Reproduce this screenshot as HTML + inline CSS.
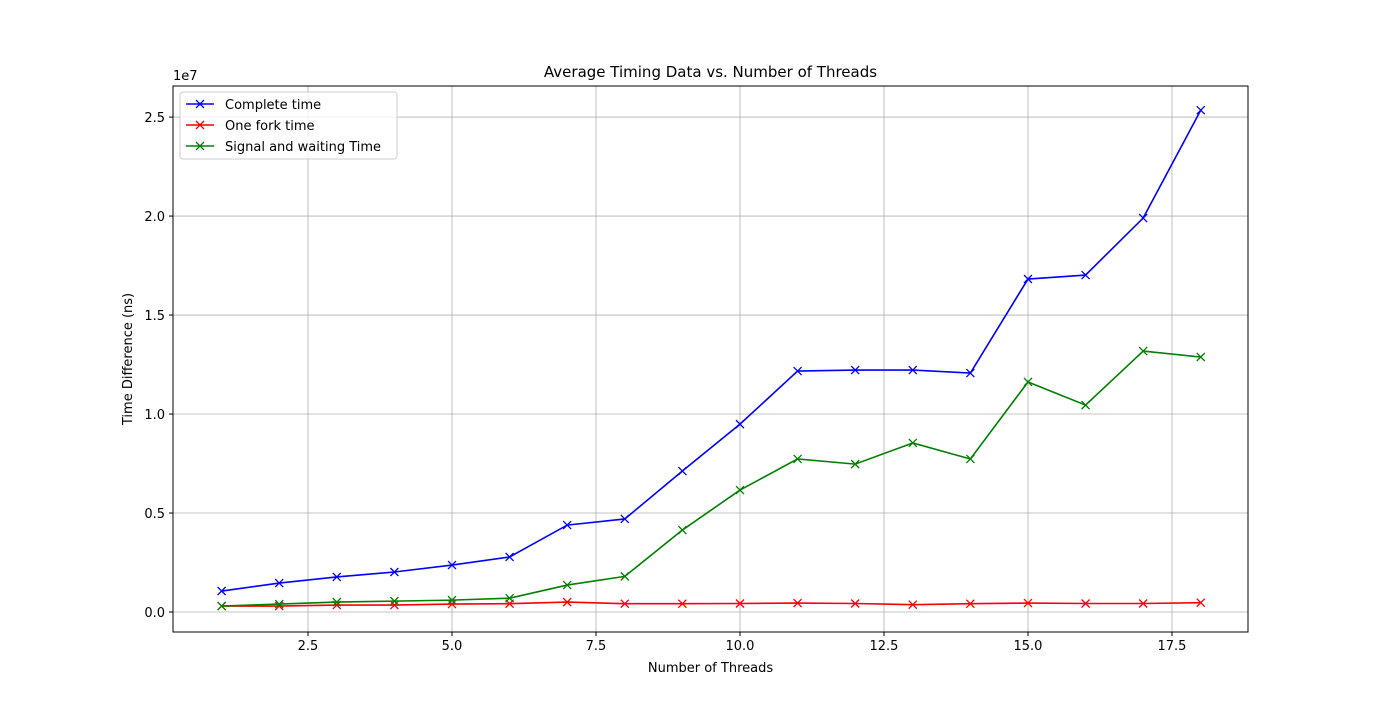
<!DOCTYPE html>
<html><head><meta charset="utf-8"><style>
body{margin:0;background:#fff}
svg text{font-family:"DejaVu Sans","Liberation Sans",sans-serif;fill:#000}
</style></head><body>
<svg id="chart" width="1387" height="710">
<rect width="1387" height="710" fill="#fff"/>
<g id="grid"></g>
<g id="axes"></g>
<g id="series"></g>
<rect x="173" y="86" width="1075" height="546" fill="none" stroke="#000" stroke-width="1"/>
<text x="710.5" y="77" text-anchor="middle" font-size="15">Average Timing Data vs. Number of Threads</text>
<text x="710.5" y="672" text-anchor="middle" font-size="13">Number of Threads</text>
<text transform="translate(132,359) rotate(-90)" text-anchor="middle" font-size="13">Time Difference (ns)</text>
<text x="173" y="80" font-size="13">1e7</text>
<g>
<rect x="180" y="92" width="217" height="67" fill="#fff" fill-opacity="0.8" stroke="#ccc" rx="3"/>
<g id="legend"></g>
</g>
</svg>
<script>
const threads=[1,2,3,4,5,6,7,8,9,10,11,12,13,14,15,16,17,18];
const completeTime=[0.106,0.146,0.177,0.202,0.237,0.278,0.439,0.470,0.712,0.949,1.217,1.222,1.222,1.207,1.682,1.702,1.990,2.535];
const forkTime=[0.030,0.030,0.035,0.035,0.040,0.042,0.050,0.042,0.042,0.043,0.045,0.043,0.037,0.042,0.045,0.043,0.043,0.047];
const signalTime=[0.030,0.040,0.050,0.055,0.060,0.070,0.136,0.180,0.414,0.616,0.773,0.747,0.854,0.773,1.162,1.045,1.318,1.288];
const xTicks=[2.5,5.0,7.5,10.0,12.5,15.0,17.5];
const yTicks=[0,0.5,1.0,1.5,2.0,2.5];
const xTickLabels=["2.5","5.0","7.5","10.0","12.5","15.0","17.5"];
const yTickLabels=["0.0","0.5","1.0","1.5","2.0","2.5"];
const seriesNames=["Complete time","One fork time","Signal and waiting Time"];
const seriesColors=["#0000ff","#ff0000","#008000"];
const L=173,R=1248,T=86,B=632;
const xMin=0.156,xMax=18.82,yMin=-0.101,yMax=2.657;
const sx=v=>L+(v-xMin)/(xMax-xMin)*(R-L);
const sy=v=>B-(v-yMin)/(yMax-yMin)*(B-T);
const NS="http://www.w3.org/2000/svg";
function mk(tag,attrs,parent){const e=document.createElementNS(NS,tag);for(const k in attrs)e.setAttribute(k,attrs[k]);parent.appendChild(e);return e;}
const grid=document.getElementById('grid'),axes=document.getElementById('axes'),ser=document.getElementById('series'),leg=document.getElementById('legend');
xTicks.forEach((t,i)=>{const x=sx(t);
 const g=mk('line',{x1:x,x2:x,y1:T,y2:B,stroke:'#b0b0b0','stroke-width':0.8},grid);
 
 
 mk('line',{x1:x,x2:x,y1:B,y2:B+4,stroke:'#000'},axes);
 const tx=mk('text',{x:x,y:B+18,'text-anchor':'middle','font-size':13},axes);tx.textContent=xTickLabels[i];
 
 });
yTicks.forEach((t,i)=>{const y=sy(t);
 const g=mk('line',{x1:L,x2:R,y1:y,y2:y,stroke:'#b0b0b0','stroke-width':0.8},grid);
 
 
 mk('line',{x1:L-4,x2:L,y1:y,y2:y,stroke:'#000'},axes);
 const tx=mk('text',{x:L-8,y:y+5,'text-anchor':'end','font-size':13},axes);tx.textContent=yTickLabels[i];
 
 });
function marker(x,y,c,p){mk('path',{d:`M${x-4},${y-4}L${x+4},${y+4}M${x-4},${y+4}L${x+4},${y-4}`,stroke:c,'stroke-width':1.3,fill:'none'},p);}
[completeTime,forkTime,signalTime].forEach((vals,si)=>{
 const g=mk('g',{},ser);
 
 
 const pts=threads.map((t,i)=>sx(t)+','+sy(vals[i])).join(' ');
 mk('polyline',{points:pts,fill:'none',stroke:seriesColors[si],'stroke-width':1.6},g);
 threads.forEach((t,i)=>marker(sx(t),sy(vals[i]),seriesColors[si],g));
 const ly=104+si*21;
 const lg=mk('g',{},leg);
 
 
 mk('line',{x1:186,x2:214,y1:ly,y2:ly,stroke:seriesColors[si],'stroke-width':1.6},lg);
 marker(200,ly,seriesColors[si],lg);
 const tx=mk('text',{x:225,y:ly+5,'font-size':13},lg);tx.textContent=seriesNames[si];
});
</script>
</body></html>
